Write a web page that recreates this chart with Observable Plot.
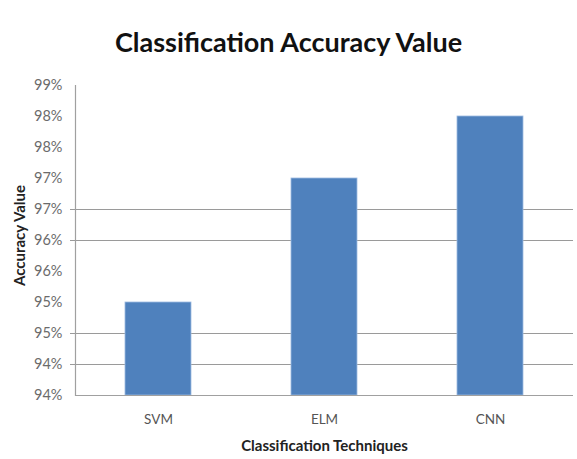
<!DOCTYPE html>
<html>
<head>
<meta charset="utf-8">
<script src="https://cdn.jsdelivr.net/npm/d3@7"></script>
<script src="https://cdn.jsdelivr.net/npm/@observablehq/plot@0.6"></script>
<style>
  html, body { margin: 0; padding: 0; background: #fff; }
  #chart { width: 577px; height: 459px; }
</style>
</head>
<body>
<div id="chart"></div>
<script>
const categories = ["SVM", "ELM", "CNN"];
const accuracy = [95.5, 97.5, 98.5];
const yTicks = [94, 94.5, 95, 95.5, 96, 96.5, 97, 97.5, 98, 98.5, 99];
const yTickLabels = ["94%", "94%", "95%", "95%", "96%", "96%", "97%", "97%", "98%", "98%", "99%"];
const gridValues = [94.5, 95, 96.5, 97];
const title = "Classification Accuracy Value";
const xLabel = "Classification Techniques";
const yLabel = "Accuracy Value";

const data = categories.map((c, i) => ({name: c, value: accuracy[i]}));
const labelFor = new Map(yTicks.map((t, i) => [t, yTickLabels[i]]));

const chart = Plot.plot({
  width: 577,
  height: 459,
  marginTop: 85,
  marginBottom: 64,
  marginLeft: 75,
  marginRight: 4,
  style: {fontFamily: "Lato, 'Open Sans', sans-serif", fontSize: "12px", background: "#fff"},
  x: {domain: categories, paddingInner: 0.6, paddingOuter: 0.3, label: null},
  y: {domain: [94, 99], label: null},
  marks: [
    Plot.ruleY(gridValues, {stroke: "#9a9a9a", strokeWidth: 1.2}),
    Plot.axisY({ticks: gridValues, tickSize: 5, tickFormat: () => "", stroke: "#9a9a9a", label: null}),
    Plot.axisY({ticks: yTicks, tickSize: 0, tickPadding: 13, tickFormat: d => labelFor.get(d), fill: "#6b6b6b", fontSize: 14.5, label: null}),
    Plot.barY(data, {x: "name", y1: 94, y2: "value", fill: "#4f81bd", stroke: "#9dbbe0", strokeWidth: 0.8}),
    Plot.frame({anchor: "left", stroke: "#a0a0a0", strokeWidth: 1.2}),
    Plot.ruleY([94], {stroke: "#a0a0a0", strokeWidth: 1.2}),
    Plot.axisX({tickSize: 0, tickPadding: 19, fill: "#555", fontSize: 13.5, label: null}),
    Plot.text([title], {frameAnchor: "top", lineAnchor: "middle", dx: -36, dy: -42, text: d => d, fontSize: 27, fontWeight: "bold", fill: "#111"}),
    Plot.text([xLabel], {frameAnchor: "bottom", lineAnchor: "middle", dy: 51, text: d => d, fontSize: 15, fontWeight: "bold", fill: "#222"}),
    Plot.text([yLabel], {frameAnchor: "left", textAnchor: "middle", lineAnchor: "middle", dx: -55, dy: -5, rotate: -90, text: d => d, fontSize: 15, fontWeight: "bold", fill: "#222"})
  ]
});
document.getElementById("chart").appendChild(chart);
</script>
</body>
</html>
